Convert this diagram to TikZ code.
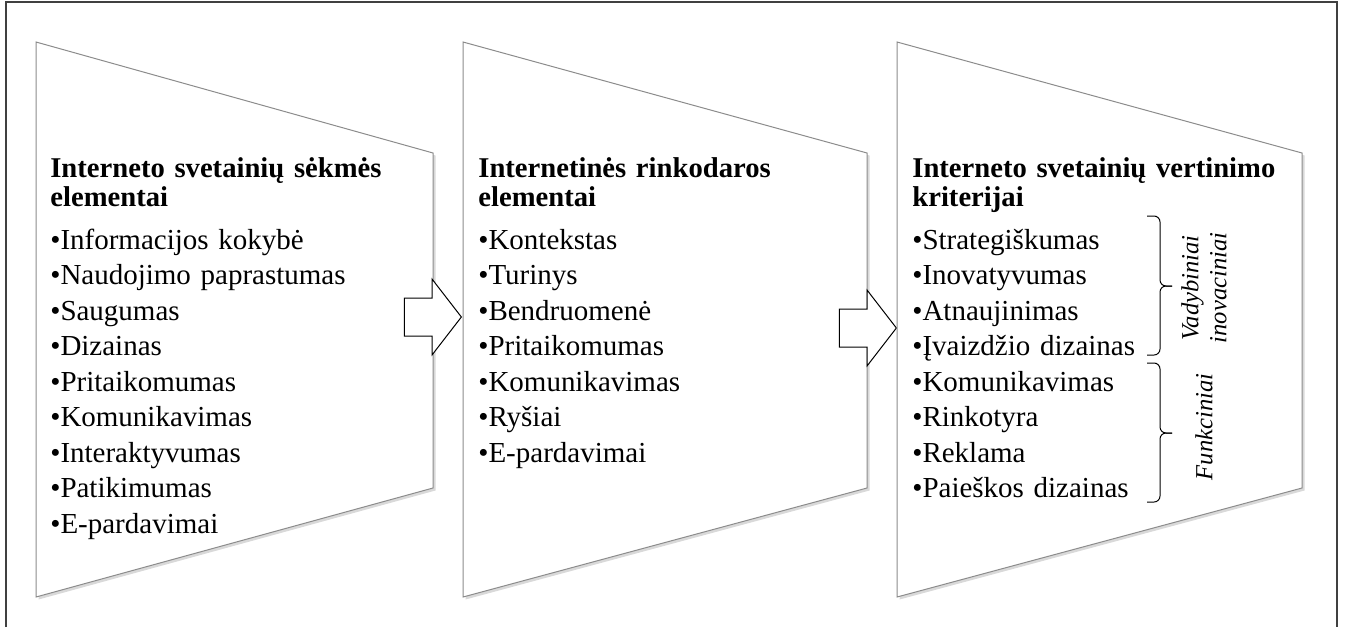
\documentclass[tikz,border=0pt]{standalone}
\usepackage{fontspec}
\setmainfont{Liberation Serif}
\usetikzlibrary{positioning, shapes.arrows, shadows}
\tikzstyle{myframe}=[draw=black!75, line width=0.3mm]
\newcommand{\paneltitle}[1]{{\bfseries\fontsize{16.3}{16.5}\selectfont #1\par}\vspace{4.3pt}}

\begin{document}
\begin{tikzpicture}[x=0.2mm,y=-0.2mm]
            \tikzset {
                panel/.style={
                        draw=black!45,
                        fill=white,
                        line width=0.2mm,
                        drop shadow={shadow xshift=0.5mm, shadow yshift=-0.5mm, opacity=0.3}
                    },
                panel text/.style={
                        anchor=base west,
                        text width=78mm,
                        align=left,
                        inner sep=0pt,
                        font=\fontsize{16.5}{20.2}\selectfont
                    },
                step arrow/.style={
                        single arrow,
                        draw=black,
                        fill=white,
                        line width=0.2mm,
                        inner xsep=0pt,
                        inner ysep=3.7mm,
                        minimum height=11.4mm,
                        single arrow head extend=3.8mm,
                        single arrow tip angle=104.6,
                        anchor=tip
                    },
                group brace/.style={draw, line width=0.2mm, rounded corners=1.2mm},
                group label/.style={rotate=90, align=center, font=\fontsize{14}{15.9}\selectfont\itshape}
            }
            \useasboundingbox (0,0) rectangle (1346,627);

            % frame
            \draw[myframe] (6,627) -- (6,2) -- (1337,2) -- (1337,627);

            % panels and arrows
            \draw[panel] (36,42) -- (433,153) -- (433,488) -- (36,597) -- cycle;
            \node[step arrow] (arrowone) at (462,317) {};
            \draw[panel] (463,42) -- (867,153) -- (867,488) -- (463,597) -- cycle;
            \node[step arrow] (arrowtwo) at (897,328) {};
            \draw[panel] (897,42) -- (1302,153) -- (1302,488) -- (897,597) -- cycle;

            % texts
            \node[panel text] (sekme) at (50,177) {\paneltitle{Interneto svetainių sėkmės\\elementai}
                •Informacijos kokybė\\•Naudojimo paprastumas\\•Saugumas\\•Dizainas\\•Pritaikomumas\\•Komunikavimas\\•Interaktyvumas\\•Patikimumas\\•E-pardavimai};
            \node[panel text] (rinkodara) at (478,177) {\paneltitle{Internetinės rinkodaros\\elementai}
                •Kontekstas\\•Turinys\\•Bendruomenė\\•Pritaikomumas\\•Komunikavimas\\•Ryšiai\\•E-pardavimai};
            \node[panel text] (kriterijai) at (912,177) {\paneltitle{Interneto svetainių vertinimo\\kriterijai}
                •Strategiškumas\\•Inovatyvumas\\•Atnaujinimas\\•Įvaizdžio dizainas\\•Komunikavimas\\•Rinkotyra\\•Reklama\\•Paieškos dizainas};

            % groups
            \draw[group brace] (1147,216) -| (1160,286) -- (1172,286);
            \draw[group brace] (1147,355) -| (1160,286) -- (1172,286);
            \draw[group brace] (1147,363) -| (1160,433) -- (1172,433);
            \draw[group brace] (1147,502) -| (1160,433) -- (1172,433);
            \node[group label] (vadybiniai) at (1204,288) {Vadybiniai\\inovaciniai};
            \node[group label] (funkciniai) at (1204,427) {Funkciniai};
        \end{tikzpicture}
\end{document}
